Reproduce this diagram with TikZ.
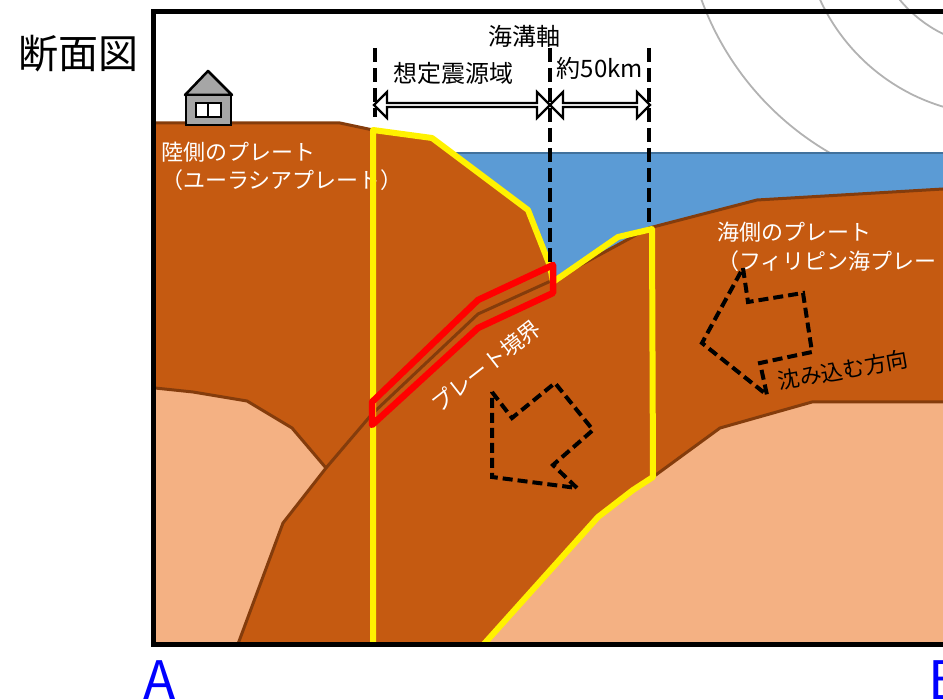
\documentclass[tikz,border=0pt]{standalone}
\usepackage{fontspec}
\usepackage{tikz}
\usetikzlibrary{shapes.arrows, positioning}
\newfontfamily\jp{Noto Sans CJK JP}
\definecolor{crust}{RGB}{197,90,17}
\definecolor{crustline}{RGB}{132,60,12}
\definecolor{mantle}{RGB}{244,177,131}
\definecolor{sea}{RGB}{91,155,213}
\definecolor{sealine}{RGB}{65,113,156}
\definecolor{wave}{RGB}{178,178,178}
\definecolor{roof}{RGB}{166,166,166}
\definecolor{letter}{RGB}{0,0,255}
\tikzstyle{border} = [crustline, line width=3pt, line join=round]
\tikzstyle{zone} = [yellow, line width=6pt, line join=round]
\tikzstyle{guide} = [black, line width=4.5pt, dash pattern=on 14pt off 6pt]
\tikzstyle{motion} = [black, line width=4pt, dash pattern=on 10pt off 5pt, line join=miter]
\tikzstyle{dimarrow} = [double arrow, draw, fill=white, line width=2.2pt, inner sep=0pt, minimum width=26pt, double arrow head extend=6pt]
\tikzstyle{jlabel} = [font=\jp\fontsize{22}{26}\selectfont, inner sep=0pt]
\tikzstyle{jtext} = [font=\jp\fontsize{24}{28}\selectfont, inner sep=0pt]
\tikzstyle{endlabel} = [font=\jp\fontsize{53}{60}\selectfont, text=letter, inner sep=0pt]

\begin{document}
\begin{tikzpicture}[x=1pt, y=-1pt]
\useasboundingbox (0,0) rectangle (943,700);

% rings in the sky
\begin{scope}
  \clip (0,0) rectangle (960,153);
  \draw[wave, line width=1.8pt] (976,-100) circle[radius=292pt];
  \draw[wave, line width=1.8pt] (1000,-83) circle[radius=198pt];
  \draw[wave, line width=1.8pt] (1000,-83) circle[radius=130pt];
\end{scope}

% plates, mantle and sea
\fill[crust] (155,123) -- (340,123) -- (373,130) -- (432,138) -- (528,210) -- (550,266) -- (553,280)
  -- (649,228) -- (757,200) -- (960,188) -- (960,644) -- (155,644) -- cycle;
\fill[mantle] (155,388) -- (193,392) -- (247,401) -- (292,428) -- (326,468) -- (283,523) -- (238,644) -- (155,644) -- cycle;
\fill[mantle] (484,644) -- (598,517) -- (633,490) -- (653,477) -- (720,428) -- (812,402) -- (960,402) -- (960,644) -- cycle;
\fill[sea] (452,153) -- (960,153) -- (960,188) -- (757,200) -- (649,228) -- (553,280) -- (550,266) -- (528,210) -- cycle;
\draw[sealine, line width=2pt] (452,153) -- (960,153);

\draw[border] (155,123) -- (340,123) -- (373,130) -- (432,138) -- (528,210) -- (550,266);
\draw[border] (553,280) -- (649,228) -- (757,200) -- (960,188);
\draw[border] (553,280) -- (478,314) -- (372,414) -- (326,468) -- (283,523) -- (238,644);
\draw[border] (155,388) -- (193,392) -- (247,401) -- (292,428) -- (326,468);
\draw[border] (653,477) -- (720,428) -- (812,402) -- (960,402);

\node[jlabel, white, anchor=west] (landplate) at (161,152) {陸側のプレート};
\node[jlabel, white, anchor=west] (landname) at (161,180) {（ユーラシアプレート）};
\node[jlabel, white, anchor=west] (seaplate) at (717,232) {海側のプレート};
\node[jlabel, white, anchor=west] (seaname) at (717,261) {（フィリピン海プレー};
\node[jlabel, white, rotate=38] (boundary) at (486,366) {プレート境界};
\node[jlabel, rotate=10] (sinking) at (843,370) {沈み込む方向};

% dashed block arrows
\draw[motion] (492,392) -- (512,418) -- (555,383) -- (593,430) -- (553,465) -- (577,488) -- (492,477) -- cycle;
\draw[motion] (743,268) -- (748,302) -- (803,293) -- (812,352) -- (760,363) -- (767,395) -- (702,343) -- cycle;

% source area and plate boundary zone
\draw[zone] (373,644) -- (373,130) -- (432,138) -- (528,210) -- (550,266) -- (553,282) -- (618,237)
  -- (652,229) -- (653,477) -- (633,490) -- (598,517) -- (484,644);
\draw[red, line width=6.5pt, line join=round] (372,402) -- (478,300) -- (553,265) -- (553,293) -- (478,328) -- (372,425) -- cycle;

% trench axis and widths
\coordinate (srcTop) at (375,48);
\coordinate (srcBot) at (375,117);
\coordinate (axisTop) at (550,48);
\coordinate (axisBot) at (550,265);
\coordinate (edgeTop) at (649,48);
\coordinate (edgeBot) at (649,228);
\draw[guide] (srcTop) -- (srcBot);
\draw[guide] (axisTop) -- (axisBot);
\draw[guide] (edgeTop) -- (edgeBot);
\node[dimarrow, minimum height=176pt] (srcspan) at (462,105) {};
\node[dimarrow, minimum height=100pt] (offspan) at (600,105) {};
\node[jtext] (axis) at (524,36) {海溝軸};
\node[jtext] (srczone) at (453,73) {想定震源域};
\node[jtext] (dist) at (600,68) {約50km};

% house
\draw[fill=roof, line width=2.5pt, line join=round] (185,95) -- (208,71) -- (232,95) -- cycle;
\draw[fill=roof, line width=2.5pt] (186,95) rectangle (231,125);
\draw[fill=white, line width=2.5pt] (196,103) rectangle (221,117);
\draw[line width=2.5pt] (208,103) -- (208,117);

% frame
\draw[line width=5pt] (1010,12) -- (153,12) -- (153,644) -- (1010,644);

\node[font=\jp\fontsize{40}{48}\selectfont, inner sep=0pt] (title) at (78,54) {断面図};
\node[endlabel, anchor=base] (endA) at (160,699) {A};
\node[endlabel, anchor=base west] (endB) at (928,699) {B};
\end{tikzpicture}
\end{document}
